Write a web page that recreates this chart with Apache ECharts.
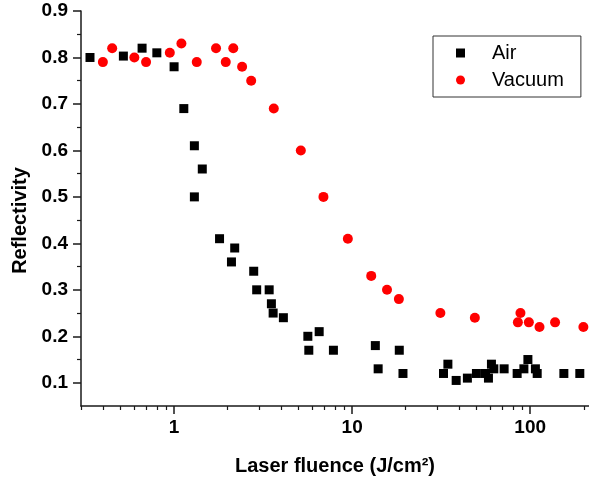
<!DOCTYPE html>
<html>
<head>
<meta charset="utf-8">
<script src="https://cdn.jsdelivr.net/npm/echarts@6/dist/echarts.min.js"></script>
<style>
  html, body { margin: 0; padding: 0; background: #fff; }
  #chart { width: 589px; height: 488px; }
</style>
</head>
<body>
<div id="chart"></div>
<script>
// Reflectivity versus laser fluence, measured in air and in vacuum
const airFluence = [0.337, 0.519, 0.661, 0.80, 1.00, 1.134, 1.30, 1.44, 1.30, 1.80, 2.19, 2.10, 2.80, 2.91, 3.42, 3.52, 3.60, 4.11, 5.64, 6.53, 5.71, 7.85, 13.5, 18.4, 14.0, 19.3, 32.6, 34.5, 38.4, 44.4, 49.9, 56.1, 58.3, 60.6, 62.5, 71.4, 84.5, 92.2, 97.1, 107, 109.5, 154.6, 190];
const airReflectivity = [0.80, 0.803, 0.82, 0.81, 0.78, 0.69, 0.61, 0.56, 0.50, 0.41, 0.39, 0.36, 0.34, 0.30, 0.30, 0.27, 0.25, 0.24, 0.20, 0.21, 0.17, 0.17, 0.18, 0.17, 0.13, 0.12, 0.12, 0.14, 0.105, 0.11, 0.12, 0.12, 0.11, 0.14, 0.13, 0.13, 0.12, 0.13, 0.15, 0.13, 0.12, 0.12, 0.12];

const vacuumFluence = [0.398, 0.449, 0.598, 0.696, 0.946, 1.099, 1.341, 1.72, 1.95, 2.15, 2.41, 2.71, 3.63, 5.15, 6.90, 9.46, 12.8, 15.7, 18.3, 31.3, 48.9, 88.2, 85.3, 98.3, 112.8, 138, 199];
const vacuumReflectivity = [0.79, 0.82, 0.80, 0.79, 0.81, 0.83, 0.79, 0.82, 0.79, 0.82, 0.78, 0.75, 0.69, 0.60, 0.50, 0.41, 0.33, 0.30, 0.28, 0.25, 0.24, 0.25, 0.23, 0.23, 0.22, 0.23, 0.22];

const seriesNames = ['Air', 'Vacuum'];

// Axis ticks
const xMajorTicks = [1, 10, 100];
const xMinorTicks = [0.3, 0.4, 0.5, 0.6, 0.7, 0.8, 0.9, 2, 3, 4, 5, 6, 7, 8, 9, 20, 30, 40, 50, 60, 70, 80, 90, 200];
const yMajorTicks = [0.1, 0.2, 0.3, 0.4, 0.5, 0.6, 0.7, 0.8, 0.9];
const yMinorTicks = [0.15, 0.25, 0.35, 0.45, 0.55, 0.65, 0.75, 0.85];

const X_MIN = 0.3, X_MAX = 214;
const Y_MIN = 0.05, Y_MAX = 0.9;

const pairs = (xs, ys) => xs.map((x, i) => [x, ys[i]]);

const FONT = 'Liberation Sans, Arial, sans-serif';
const AXIS_COLOR = '#1a1a1a';
const gridBox = { left: 81, top: 11, width: 508, height: 395 };

const chart = echarts.init(document.getElementById('chart'), null, { renderer: 'canvas' });

chart.setOption({
  backgroundColor: '#ffffff',
  animation: false,
  grid: [
    Object.assign({}, gridBox, { containLabel: false }),
    Object.assign({}, gridBox, { containLabel: false })
  ],
  legend: {
    orient: 'vertical',
    left: 433,
    top: 36,
    padding: [7, 17, 7, 23],
    itemGap: 7,
    itemWidth: 9,
    itemHeight: 9,
    borderColor: '#333',
    borderWidth: 1,
    textStyle: { fontFamily: FONT, fontSize: 20, color: '#000', lineHeight: 20, padding: [0, 0, 0, 22] },
    data: seriesNames
  },
  xAxis: [
    {
      type: 'log',
      gridIndex: 0,
      min: X_MIN,
      max: X_MAX,
      name: 'Laser fluence (J/cm²)',
      nameLocation: 'middle',
      nameGap: 50,
      nameTextStyle: { fontFamily: FONT, fontSize: 20, fontWeight: 'bold', color: '#000' },
      axisLine: { show: true, lineStyle: { color: AXIS_COLOR, width: 1.5 } },
      axisTick: { show: true, inside: false, length: 8, customValues: xMajorTicks, lineStyle: { color: AXIS_COLOR, width: 1.5 } },
      axisLabel: { customValues: xMajorTicks, margin: 12, fontFamily: FONT, fontSize: 19, fontWeight: 'bold', color: '#000' },
      splitLine: { show: false },
      minorTick: { show: false }
    },
    {
      type: 'log',
      gridIndex: 1,
      min: X_MIN,
      max: X_MAX,
      axisLine: { show: false },
      axisTick: { show: true, inside: false, length: 4, customValues: xMinorTicks, lineStyle: { color: AXIS_COLOR, width: 1.2 } },
      axisLabel: { show: false },
      splitLine: { show: false }
    }
  ],
  yAxis: [
    {
      type: 'value',
      gridIndex: 0,
      min: Y_MIN,
      max: Y_MAX,
      name: 'Reflectivity',
      nameLocation: 'middle',
      nameGap: 48,
      nameRotate: 90,
      nameTextStyle: { fontFamily: FONT, fontSize: 20, fontWeight: 'bold', color: '#000', padding: [0, 24, 0, 0] },
      axisLine: { show: true, lineStyle: { color: AXIS_COLOR, width: 1.5 } },
      axisTick: { show: true, inside: false, length: 8, customValues: yMajorTicks, lineStyle: { color: AXIS_COLOR, width: 1.5 } },
      axisLabel: {
        customValues: yMajorTicks,
        margin: 13,
        fontFamily: FONT, fontSize: 19, fontWeight: 'bold', color: '#000',
        formatter: v => v.toFixed(1)
      },
      splitLine: { show: false }
    },
    {
      type: 'value',
      gridIndex: 1,
      min: Y_MIN,
      max: Y_MAX,
      axisLine: { show: false },
      axisTick: { show: true, inside: false, length: 4, customValues: yMinorTicks, lineStyle: { color: AXIS_COLOR, width: 1.2 } },
      axisLabel: { show: false },
      splitLine: { show: false }
    }
  ],
  series: [
    {
      name: seriesNames[0],
      type: 'scatter',
      xAxisIndex: 0,
      yAxisIndex: 0,
      symbol: 'rect',
      symbolSize: 9,
      itemStyle: { color: '#000000', opacity: 1 },
      data: pairs(airFluence, airReflectivity)
    },
    {
      name: seriesNames[1],
      type: 'scatter',
      xAxisIndex: 0,
      yAxisIndex: 0,
      symbol: 'circle',
      symbolSize: 10,
      itemStyle: { color: '#ff0000', opacity: 1 },
      data: pairs(vacuumFluence, vacuumReflectivity)
    }
  ]
});
</script>
</body>
</html>
